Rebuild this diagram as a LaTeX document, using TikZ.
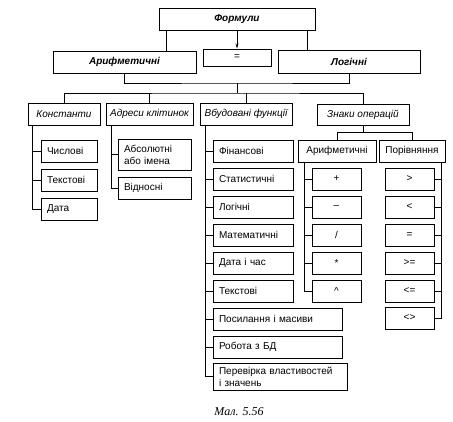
\documentclass[tikz,border=0pt]{standalone}
\usepackage{fontspec}
\setmainfont{Liberation Sans}
\newfontfamily\capfont{Liberation Serif}
\usetikzlibrary{arrows.meta}

\newcommand{\boxfont}{\fontsize{10}{12}\selectfont}

\tikzset{
  box/.style={draw, line width=1pt, minimum height=22pt, inner sep=1pt, font=\boxfont},
  cbox/.style={box, minimum width=#1},
  lbox/.style={box, text width=#1, align=left, inner xsep=6pt},
  link/.style={line width=0.6pt}
}

\begin{document}
\begin{tikzpicture}[x=1pt, y=-1pt]

\useasboundingbox (0,0) rectangle (453,421);

% top level
\node[cbox=156pt, font=\boxfont\bfseries\itshape] (form) at (237,19) {Формули};
\node[cbox=68pt, minimum height=17pt] (eq) at (237,57.5) {=};
\node[cbox=143pt, font=\boxfont\bfseries\itshape] (arif) at (124.5,62) {Арифметичні};
\node[cbox=142pt, minimum height=23pt, font=\boxfont\bfseries\itshape] (logi) at (349,61.5) {Логічні};

\draw[link] ([xshift=8pt]form.south west) -- ([xshift=8pt]form.south west |- arif.north);
\draw[link] ([xshift=-8pt]form.south east) -- ([xshift=-8pt]form.south east |- logi.north);
\draw[link, -{Stealth[length=5pt, width=3pt]}] (form.south) -- (eq.north);

\coordinate (jn) at (237,83);
\coordinate (bus) at (237,93);
\draw[link] (arif.south) |- (jn) -| (logi.south);
\draw[link] (jn) -- (bus);

% second level
\node[cbox=72pt, font=\boxfont\itshape] (kon) at (64,114) {Константи};
\node[cbox=87pt, font=\boxfont\itshape] (adr) at (149.5,114) {Адреси клітинок};
\node[cbox=92pt, font=\boxfont\itshape] (vbud) at (246,114) {Вбудовані функції};
\node[cbox=92pt, minimum height=21pt, font=\boxfont\itshape] (znak) at (363,114.5) {Знаки операцій};

\draw[link] (kon.north) |- (bus) -| (znak.north);
\draw[link] (adr.north) -- (adr.north |- bus);
\draw[link] (vbud.north) -- (vbud.north |- bus);

% constants
\node[lbox=44pt] (k1) at (69,151) {Числові};
\node[lbox=44pt] (k2) at (69,180) {Текстові};
\node[lbox=44pt] (k3) at (69,209) {Дата};
\foreach \n in {k1,k2,k3}
  \draw[link] ([xshift=5pt]kon.south west) |- (\n.west);

% cell addresses
\node[lbox=61pt, minimum height=31pt] (a1) at (154.5,154.5) {Абсолютні\\або імена};
\node[lbox=61pt] (a2) at (154.5,188) {Відносні};
\foreach \n in {a1,a2}
  \draw[link] ([xshift=6pt]adr.south west) |- (\n.west);

% built-in functions
\node[lbox=68pt] (v1) at (253,151) {Фінансові};
\node[lbox=68pt] (v2) at (253,179) {Статистичні};
\node[lbox=68pt] (v3) at (253,207) {Логічні};
\node[lbox=68pt] (v4) at (253,235) {Математичні};
\node[lbox=68pt] (v5) at (253,263) {Дата і час};
\node[lbox=68pt] (v6) at (253,291) {Текстові};
\node[lbox=117pt] (v7) at (277.5,319) {Посилання і масиви};
\node[lbox=117pt] (v8) at (277.5,347) {Робота з БД};
\node[lbox=122pt, minimum height=27pt] (v9) at (280,376.5) {Перевірка властивостей\\і значень};
\foreach \n in {v1,v2,v3,v4,v5,v6,v7,v8,v9}
  \draw[link] ([xshift=6pt]vbud.south west) |- (\n.west);

% operators
\node[cbox=78pt] (ar2) at (337,151) {Арифметичні};
\node[cbox=66pt] (por) at (412,151) {Порівняння};
\draw[link] (znak.south) -- ++(0,7) coordinate (zb);
\draw[link] (ar2.north) |- (zb) -| (por.north);

\node[cbox=49pt] (o1) at (336.5,179) {+};
\node[cbox=49pt] (o2) at (336.5,207) {–};
\node[cbox=49pt] (o3) at (336.5,235) {/};
\node[cbox=49pt] (o4) at (336.5,263) {*};
\node[cbox=49pt] (o5) at (336.5,291) {\textasciicircum};
\foreach \n in {o1,o2,o3,o4,o5}
  \draw[link] ([xshift=7pt]ar2.south west) |- (\n.west);

\node[cbox=49pt] (p1) at (409.5,179) {>};
\node[cbox=49pt] (p2) at (409.5,207) {<};
\node[cbox=49pt] (p3) at (409.5,235) {=};
\node[cbox=49pt] (p4) at (409.5,263) {>=};
\node[cbox=49pt] (p5) at (409.5,291) {<=};
\node[cbox=49pt] (p6) at (409.5,318) {<>};
\foreach \n in {p1,p2,p3,p4,p5,p6}
  \draw[link] ([xshift=-4pt]por.south east) |- (\n.east);

% caption
\node[font=\capfont\itshape\fontsize{12}{14}\selectfont] (cap) at (239,412) {Мал. 5.56};

\end{tikzpicture}
\end{document}
